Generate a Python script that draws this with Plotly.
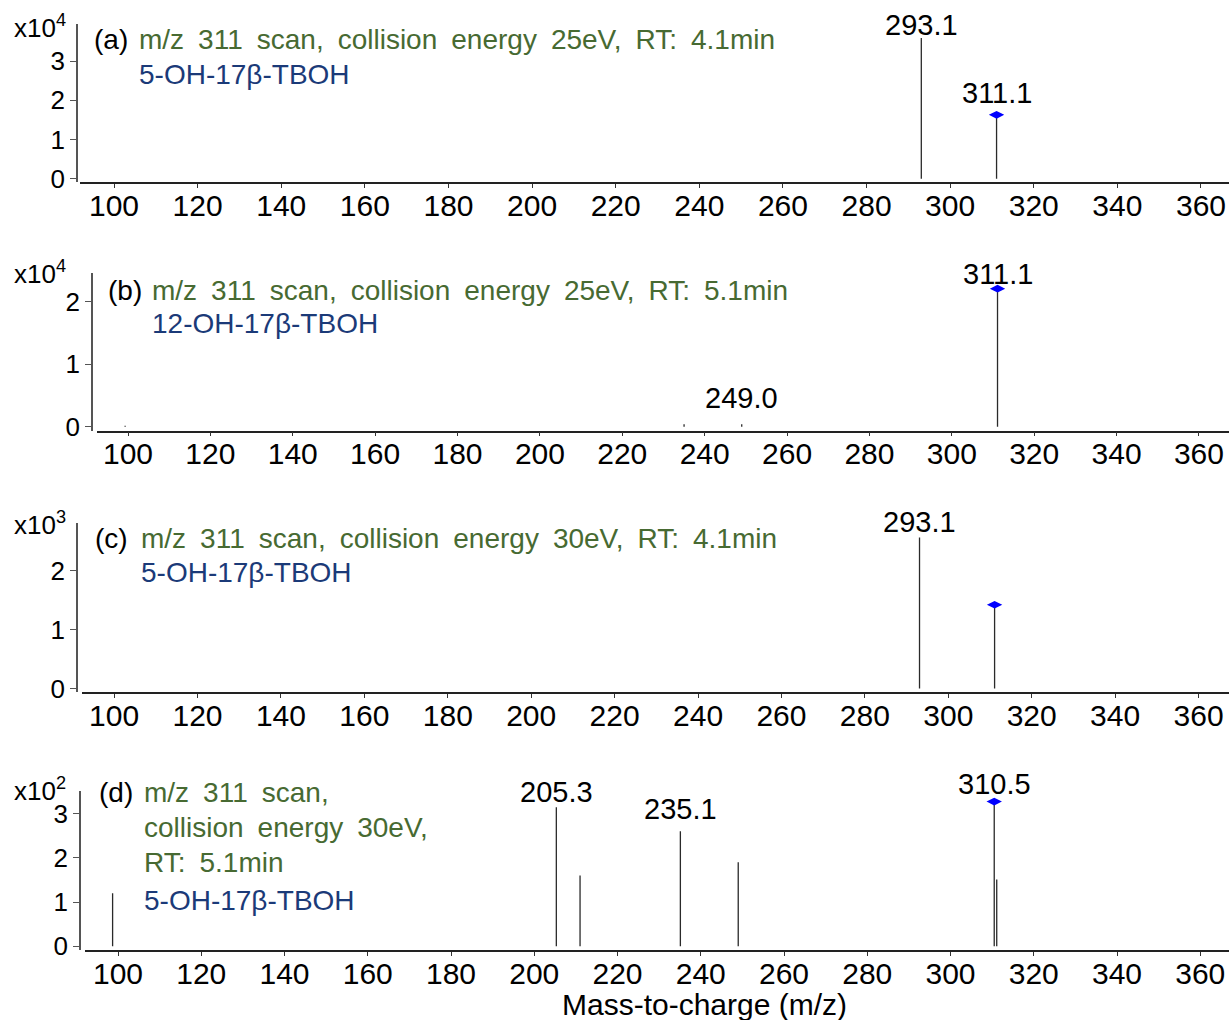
import plotly.graph_objects as go

W, H = 1231, 1020

# ---------------- data ----------------
mz_a = [293.1, 311.1]
int_a = [35900, 16300]
mz_b = [99.3, 235.0, 249.0, 311.1]
int_b = [150, 400, 400, 22100]
mz_c = [293.1, 311.1]
int_c = [2560, 1420]
mz_d = [98.7, 205.3, 211.0, 235.1, 249.0, 310.5, 311.1]
int_d = [120, 314, 160, 260, 190, 327, 151]

precursor_a, precursor_b, precursor_c, precursor_d = 311.1, 311.1, 311.1, 310.5
labels_a = [293.1, 311.1]
labels_b = [249.0, 311.1]
labels_c = [293.1]
labels_d = [205.3, 235.1, 310.5]

exponents = [4, 4, 3, 2]
yticks = [[0, 1, 2, 3], [0, 1, 2], [0, 1, 2], [0, 1, 2, 3]]
x_ticks = list(range(100, 361, 20))

SP = "\u2002"  # wide word spacing as in the reference
header_a = SP.join(["m/z", "311", "scan,", "collision", "energy", "25eV,", "RT:", "4.1min"])
header_b = SP.join(["m/z", "311", "scan,", "collision", "energy", "25eV,", "RT:", "5.1min"])
header_c = SP.join(["m/z", "311", "scan,", "collision", "energy", "30eV,", "RT:", "4.1min"])
header_d = [SP.join(["m/z", "311", "scan,"]), SP.join(["collision", "energy", "30eV,"]), SP.join(["RT:", "5.1min"])]
compound = ["5-OH-17β-TBOH", "12-OH-17β-TBOH", "5-OH-17β-TBOH", "5-OH-17β-TBOH"]
panel_tags = ["(a)", "(b)", "(c)", "(d)"]
x_title = "Mass-to-charge (m/z)"

# ---------------- layout geometry (pixels) ----------------
panels = [
    dict(mz=mz_a, it=int_a, prec=precursor_a, labels=labels_a, expy=27,
         x0=80, xl=77, ytop=24, ybot=182, yr=(-0.076, 3.944), xr=(91.86, 366.7)),
    dict(mz=mz_b, it=int_b, prec=precursor_b, labels=labels_b, expy=273,
         x0=97, xl=92, ytop=273, ybot=431, yr=(-0.064, 2.464), xr=(92.47, 367.3)),
    dict(mz=mz_c, it=int_c, prec=precursor_c, labels=labels_c, expy=524,
         x0=82, xl=77, ytop=523, ybot=693, yr=(-0.068, 2.814), xr=(92.3, 367.3)),
    dict(mz=mz_d, it=int_d, prec=precursor_d, labels=labels_d, expy=790,
         x0=85, xl=80, ytop=792, ybot=951, yr=(-0.09, 3.5), xr=(92.07, 366.9)),
]
label_shift = {(0, 293.1): -5, (0, 311.1): 4, (1, 249.0): 8, (1, 311.1): -3,
               (2, 293.1): -2, (3, 205.3): -3, (3, 235.1): 4, (3, 310.5): 0}

FONT = "Liberation Sans, Arial, sans-serif"
GREEN = "#476a32"
BLUE = "#1b3a78"
VSCALE = 0.989  # observed vertical compression of the rendering

fig = go.Figure()
layout = dict(width=W, height=H, margin=dict(l=0, r=0, t=0, b=0),
              paper_bgcolor="white", plot_bgcolor="white", showlegend=False,
              font=dict(family=FONT, color="black"))
annotations = []

def px_x(p):
    return p / W

def px_y(p):
    return 1 - p / (H * VSCALE)

for i, p in enumerate(panels):
    n = "" if i == 0 else str(i + 1)
    scale = 10 ** exponents[i]
    xs, ys = [], []
    for m, v in zip(p["mz"], p["it"]):
        xs += [m, m, None]
        ys += [0, v, None]
    fig.add_trace(go.Scatter(x=xs, y=ys, mode="lines", line=dict(color="#2a2a2a", width=1.3),
                             xaxis="x" + n, yaxis="y" + n, hoverinfo="skip"))
    pv = p["it"][p["mz"].index(p["prec"])]
    fig.add_trace(go.Scatter(x=[p["prec"]], y=[pv], mode="markers",
                             marker=dict(symbol="diamond-wide", size=11, color="#0000ff",
                                         line=dict(width=0)),
                             xaxis="x" + n, yaxis="y" + n, hoverinfo="skip"))
    layout["xaxis" + n] = dict(
        domain=[px_x(p["x0"]), px_x(1229)], anchor="y" + n, range=list(p["xr"]),
        tickvals=x_ticks, ticks="outside", ticklen=4, tickwidth=1, tickcolor="#333",
        ticklabelstandoff=-8,
        showline=True, linecolor="#222", linewidth=1.5, showgrid=False, zeroline=False,
        tickfont=dict(size=30, family=FONT, color="black"))
    layout["yaxis" + n] = dict(
        domain=[px_y(p["ybot"]), px_y(p["ytop"])], anchor="free", position=px_x(p["xl"]),
        range=[p["yr"][0] * scale, p["yr"][1] * scale],
        tickvals=[t * scale for t in yticks[i]], ticktext=[str(t) for t in yticks[i]],
        ticks="outside", ticklen=6, tickwidth=1, tickcolor="#555",
        showline=True, linecolor="#555", linewidth=1.5, showgrid=False, zeroline=False,
        tickfont=dict(size=26, family=FONT, color="black"))
    for lab in p["labels"]:
        v = p["it"][p["mz"].index(lab)]
        annotations.append(dict(x=lab, y=v, xref="x" + n, yref="y" + n, text=f"{lab:.1f}",
                                showarrow=False, xanchor="center", yanchor="bottom",
                                yshift=label_shift.get((i, lab), 0),
                                font=dict(size=29, family=FONT, color="black")))
    annotations.append(dict(x=px_x(12), y=px_y(p["expy"]), xref="paper", yref="paper",
                            text=f"x10<sup>{exponents[i]}</sup>", showarrow=False,
                            xanchor="left", yanchor="middle",
                            font=dict(size=26, family=FONT, color="black")))

hdr = [
    (92, 137, [40], [header_a], 75),
    (106, 150, [291], [header_b], 324),
    (93, 139, [539], [header_c], 573),
    (97, 142, [793, 828, 863], header_d, 901),
]
for i, (tx, gx, ycs, lines, yb) in enumerate(hdr):
    annotations.append(dict(x=px_x(tx), y=px_y(ycs[0]), xref="paper", yref="paper",
                            text=panel_tags[i], showarrow=False, xanchor="left", yanchor="middle",
                            font=dict(size=28, family=FONT, color="black")))
    for yc, t in zip(ycs, lines):
        annotations.append(dict(x=px_x(gx), y=px_y(yc), xref="paper", yref="paper",
                                text=t, showarrow=False, xanchor="left", yanchor="middle",
                                font=dict(size=28, family=FONT, color=GREEN)))
    annotations.append(dict(x=px_x(gx), y=px_y(yb), xref="paper", yref="paper",
                            text=compound[i], showarrow=False, xanchor="left", yanchor="middle",
                            font=dict(size=28, family=FONT, color=BLUE)))

annotations.append(dict(x=px_x(704), y=px_y(1005), xref="paper", yref="paper", text=x_title,
                        showarrow=False, xanchor="center", yanchor="middle",
                        font=dict(size=30, family=FONT, color="black")))

layout["annotations"] = annotations
fig.update_layout(**layout)
fig.write_html("out.html")
